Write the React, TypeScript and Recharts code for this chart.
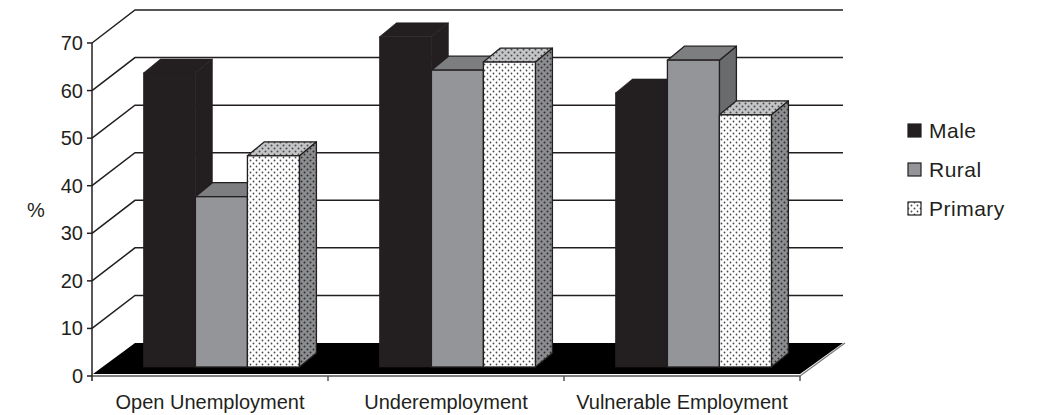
import { Bar, BarChart, CartesianGrid, XAxis, YAxis } from "recharts";

const categories = ["Open Unemployment", "Underemployment", "Vulnerable Employment"];
const male = [61.8, 69.4, 57.6];
const rural = [35.8, 62.4, 64.5];
const primary = [44.4, 64.1, 53.0];
const yTicks = [0, 10, 20, 30, 40, 50, 60, 70];
const seriesNames = ["Male", "Rural", "Primary"];

const data = categories.map((name, i) => ({
  name,
  Male: male[i],
  Rural: rural[i],
  Primary: primary[i],
}));

// layout of the fake 3d box (bar plane = recharts plot area)
const W = 1047;
const H = 415;
const PLOT_LEFT = 104;
const FRONT_DX = -12;
const FRONT_DY = 9;
const BACK_DX = 31;
const BACK_DY = -24;
const BAR_DX = 17;
const BAR_DY = 14;
const INK = "#231f20";
const FONT = "'Liberation Sans', Arial, sans-serif";

const faces: Record<string, { front: string; top: string; side: string; stroke: string; sw: number }> = {
  Male: { front: INK, top: INK, side: INK, stroke: INK, sw: 0.6 },
  Rural: { front: "#939598", top: "#7d7e80", side: "#6a6b6d", stroke: INK, sw: 1.3 },
  Primary: { front: "url(#dotsFront)", top: "url(#dotsTop)", side: "url(#dotsSide)", stroke: INK, sw: 1.3 },
};

function Box3D(props: any) {
  const { x, y, width: w, height: h, kind } = props;
  if (w == null || h == null) return null;
  const f = faces[kind];
  return (
    <g>
      <polygon
        points={`${x + w},${y} ${x + w + BAR_DX},${y - BAR_DY} ${x + w + BAR_DX},${y + h - BAR_DY} ${x + w},${y + h}`}
        fill={f.side}
        stroke={f.stroke}
        strokeWidth={f.sw}
        strokeLinejoin="round"
      />
      <polygon
        points={`${x},${y} ${x + BAR_DX},${y - BAR_DY} ${x + w + BAR_DX},${y - BAR_DY} ${x + w},${y}`}
        fill={f.top}
        stroke={f.stroke}
        strokeWidth={f.sw}
        strokeLinejoin="round"
      />
      <rect x={x} y={y} width={w} height={h} fill={f.front} stroke={f.stroke} strokeWidth={f.sw} />
    </g>
  );
}

function GridLine(p: any) {
  const { x1, y1, x2 } = p;
  const pts: number[] = p.horizontalPoints || [];
  const top = pts.length ? Math.min(...pts) : p.y;
  const bottom = pts.length ? Math.max(...pts) : p.y + p.height;
  const fx = x1 + FRONT_DX;
  const fy = y1 + FRONT_DY;
  const bx = x1 + BACK_DX;
  const by = y1 + BACK_DY;
  const bxr = x2 + BACK_DX;
  if (Math.abs(y1 - bottom) < 0.5) {
    const fxr = x2 + FRONT_DX;
    const n = categories.length;
    return (
      <g>
        <polygon points={`${fx + 1},${fy - 2} ${fxr},${fy - 2} ${bxr},${by} ${bx},${by}`} fill="#000" />
        <line x1={fxr} y1={fy} x2={bxr + 2} y2={by} stroke="#777" strokeWidth={1.2} />
        <line x1={fx} y1={fy} x2={fxr} y2={fy} stroke="#555" strokeWidth={1.5} />
        <line x1={fx} y1={top + FRONT_DY} x2={fx} y2={fy + 5} stroke={INK} strokeWidth={1.5} />
        {Array.from({ length: n }, (_, k) => {
          const xk = fx + ((fxr - fx) * (k + 1)) / n;
          return <line key={k} x1={xk} y1={fy} x2={xk} y2={fy + 5} stroke="#555" strokeWidth={1.5} />;
        })}
      </g>
    );
  }
  return (
    <path d={`M${fx},${fy} L${bx},${by} L${bxr},${by}`} fill="none" stroke={INK} strokeWidth={1.5} />
  );
}

function YTick(p: any) {
  const fx = PLOT_LEFT + FRONT_DX;
  const fy = p.y + FRONT_DY;
  return (
    <g>
      <line x1={fx - 5} y1={fy} x2={fx} y2={fy} stroke={INK} strokeWidth={1.5} />
      <text x={fx - 9} y={fy + 7} textAnchor="end" fontSize={20} fontFamily={FONT} fill={INK}>
        {p.payload.value}
      </text>
    </g>
  );
}

function XTick(p: any) {
  return (
    <text x={p.x + FRONT_DX} y={409} textAnchor="middle" fontSize={20} fontFamily={FONT} fill={INK}>
      {p.payload.value}
    </text>
  );
}

function Swatch({ kind }: { kind: string }) {
  const f = faces[kind];
  return (
    <svg width={15} height={15} style={{ display: "block" }}>
      <rect x={1} y={1} width={13} height={13} fill={f.front} stroke={INK} strokeWidth={1.2} />
    </svg>
  );
}

function LegendBox() {
  return (
    <div
      style={{
        position: "absolute",
        left: 907,
        top: 111,
        fontFamily: FONT,
        fontSize: 21,
        color: INK,
      }}
    >
      {seriesNames.map((s) => (
        <div key={s} style={{ display: "flex", alignItems: "center", height: 39 }}>
          <Swatch kind={s} />
          <span style={{ marginLeft: 7, letterSpacing: 0.5 }}>{s}</span>
        </div>
      ))}
    </div>
  );
}

function App() {
  return (
    <div style={{ position: "absolute", left: 0, top: 0, width: W, height: H, background: "#fff" }}>
      <svg width={0} height={0} style={{ position: "absolute" }}>
        <defs>
          <pattern id="dotsFront" width={6} height={6} patternUnits="userSpaceOnUse">
            <rect width={6} height={6} fill="#fff" />
            <circle cx={1.5} cy={1.5} r={0.9} fill="#4a4a4a" />
            <circle cx={4.5} cy={4.5} r={0.9} fill="#4a4a4a" />
          </pattern>
          <pattern id="dotsTop" width={6} height={6} patternUnits="userSpaceOnUse">
            <rect width={6} height={6} fill="#c4c5c7" />
            <circle cx={1.5} cy={1.5} r={1} fill="#4a4a4a" />
            <circle cx={4.5} cy={4.5} r={1} fill="#4a4a4a" />
          </pattern>
          <pattern id="dotsSide" width={6} height={6} patternUnits="userSpaceOnUse">
            <rect width={6} height={6} fill="#8c8d90" />
            <circle cx={1.5} cy={1.5} r={1} fill="#2e2e2e" />
            <circle cx={4.5} cy={4.5} r={1} fill="#2e2e2e" />
          </pattern>
        </defs>
      </svg>
      <BarChart
        width={W}
        height={H}
        data={data}
        margin={{ top: 34, right: 235, bottom: 0, left: 0 }}
        barCategoryGap="16.7%"
        barGap={0}
      >
        <CartesianGrid vertical={false} horizontal={GridLine} syncWithTicks />
        <XAxis dataKey="name" height={48} axisLine={false} tickLine={false} tick={XTick} />
        <YAxis
          width={PLOT_LEFT}
          domain={[0, 70]}
          ticks={yTicks}
          interval={0}
          axisLine={false}
          tickLine={false}
          tick={YTick}
          label={{
            content: () => (
              <text x={36} y={217} textAnchor="middle" fontSize={20} fontFamily={FONT} fill={INK}>
                %
              </text>
            ),
          }}
        />
        {seriesNames.map((s) => (
          <Bar
            key={s}
            dataKey={s}
            fill={faces[s].front}
            isAnimationActive={false}
            shape={(p: any) => <Box3D {...p} kind={s} />}
          />
        ))}
      </BarChart>
      <LegendBox />
    </div>
  );
}

export default App;
